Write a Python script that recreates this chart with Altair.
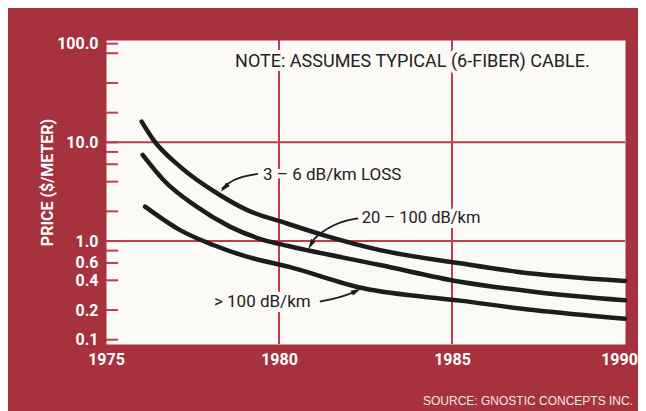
import altair as alt
import pandas as pd

# ---------------- data ----------------
SERIES = ["3 – 6 dB/km LOSS", "20 – 100 dB/km", "> 100 dB/km"]

years_low_loss = [1976.03, 1976.37, 1977.14, 1978.29, 1979.07, 1980.22, 1981.28, 1982.92, 1985.23, 1986.87, 1990.0]
price_low_loss = [16.2, 10.6, 5.68, 2.93, 2.07, 1.51, 1.15, 0.81, 0.595, 0.489, 0.394]

years_mid_loss = [1976.06, 1976.66, 1977.62, 1978.58, 1979.54, 1980.27, 1982.92, 1985.23, 1987.35, 1990.0]
price_mid_loss = [7.46, 4.16, 2.23, 1.40, 1.03, 0.891, 0.572, 0.387, 0.307, 0.251]

years_high_loss = [1976.13, 1977.14, 1978.10, 1979.07, 1980.27, 1982.44, 1985.23, 1987.35, 1990.0]
price_high_loss = [2.23, 1.29, 0.912, 0.695, 0.550, 0.332, 0.249, 0.200, 0.163]

x_tick_values = [1975, 1980, 1985, 1990]
y_label_values = [100, 10, 1, 0.6, 0.4, 0.2, 0.1]
y_minor_ticks = [100, 80, 40, 20, 10, 8, 6, 4, 2, 1, 0.8, 0.6, 0.4, 0.2, 0.1]
grid_prices = [10, 1]
grid_years = [1980, 1985]

# annotation labels (left edge, vertical middle)
label_texts = ["NOTE: ASSUMES TYPICAL (6-FIBER) CABLE.", "3 – 6 dB/km LOSS", "20 – 100 dB/km", "> 100 dB/km"]
label_years = [1978.73, 1979.54, 1982.39, 1978.12]
label_prices = [65.8, 4.68, 1.71, 0.243]
label_sizes = [18, 17, 16.5, 17]

# arrow shafts
arrow_ids = ["a1"] * 4 + ["a2"] * 5 + ["a3"] * 3
arrow_years = [1979.39, 1978.87, 1978.53, 1978.35,
               1982.29, 1981.96, 1981.57, 1981.18, 1980.99,
               1981.18, 1981.76, 1982.14]
arrow_prices = [4.79, 4.46, 3.88, 3.37,
                1.70, 1.635, 1.455, 1.199, 1.025,
                0.243, 0.268, 0.301]
# arrow heads (centre of the head)
head_years = [1978.42, 1980.92, 1982.24]
head_prices = [3.45, 0.918, 0.313]
head_angles = [225, 210, 63]

source_text = "SOURCE: GNOSTIC CONCEPTS INC."

# ---------------- tables ----------------
rows = []
for name, ys, ps in zip(SERIES, [years_low_loss, years_mid_loss, years_high_loss],
                        [price_low_loss, price_mid_loss, price_high_loss]):
    for i, (yv, pv) in enumerate(zip(ys, ps)):
        rows.append({"series": name, "year": yv, "price": pv, "i": i})
curves = pd.DataFrame(rows)

arrows = pd.DataFrame({"id": arrow_ids, "year": arrow_years, "price": arrow_prices,
                       "i": list(range(len(arrow_ids)))})
heads = pd.DataFrame({"year": head_years, "price": head_prices, "angle": head_angles})
labels = pd.DataFrame({"text": label_texts, "year": label_years, "price": label_prices,
                       "size": label_sizes})
hgrid = pd.DataFrame({"price": grid_prices})
vgrid = pd.DataFrame({"year": grid_years})
ticks = pd.DataFrame({"price": y_minor_ticks})
source = pd.DataFrame({"text": [source_text]})

# ---------------- styling ----------------
BG = "#a6323d"
GRID = "#c23b4b"
INK = "#1c1c1c"
PAPER = "#fbfaf6"
FONT = "Roboto, sans-serif"
W, H = 519, 304
ARROW = "M0,-1L0.5,1L-0.5,1Z"

x_scale = alt.Scale(domain=[1975, 1990], nice=False, zero=False)
y_scale = alt.Scale(type="log", domain=[0.0905, 109], nice=False)

x_axis = alt.Axis(values=x_tick_values, format="d", ticks=False, domain=False, grid=False,
                  labelFont=FONT, labelFontSize=16, labelFontWeight="bold", labelColor="white",
                  labelPadding=7, labelFlush=False, labelOverlap=False, title=None,
                  labelOffset={"condition": {"test": "datum.value == 1990", "value": -6}, "value": 0})
y_axis = alt.Axis(values=y_label_values, format=".1f", ticks=False, domain=False, grid=False,
                  labelFont=FONT, labelFontSize=16, labelFontWeight="bold", labelColor="white",
                  labelPadding=8, labelFlush=False, labelOverlap=False,
                  title="PRICE ($/METER)", titleFont=FONT, titleFontSize=16, titleFontWeight="bold",
                  titleColor="white", titleX=-59, titleY=142, titleAngle=270,
                  titleAlign="center", titleBaseline="middle")

X = alt.X("year:Q", scale=x_scale, axis=x_axis)
Y = alt.Y("price:Q", scale=y_scale, axis=y_axis)

hgrid_layer = alt.Chart(hgrid).mark_rule(color=GRID, strokeWidth=2).encode(y=Y)
vgrid_layer = alt.Chart(vgrid).mark_rule(color=GRID, strokeWidth=2).encode(x=X)
tick_layer = alt.Chart(ticks).mark_rule(color=GRID, strokeWidth=2).encode(
    y=Y, x=alt.value(0), x2=alt.value(12))

halo_layer = alt.Chart(labels).mark_text(
    align="left", baseline="middle", font=FONT,
    color=PAPER, stroke=PAPER, strokeWidth=8).encode(
    x=X, y=Y, text="text:N", size=alt.Size("size:Q", scale=None))

curve_layer = alt.Chart(curves).mark_line(
    color=INK, strokeWidth=4.5, strokeCap="round", interpolate="monotone").encode(
    x=X, y=Y, detail="series:N", order="i:Q")

shaft_layer = alt.Chart(arrows).mark_line(
    color=INK, strokeWidth=1.8, interpolate="basis").encode(
    x=X, y=Y, detail="id:N", order="i:Q")

head_layer = alt.Chart(heads).mark_point(
    shape=ARROW, filled=True, color=INK, size=110, opacity=1).encode(
    x=X, y=Y, angle=alt.Angle("angle:Q", scale=None))

text_layer = alt.Chart(labels).mark_text(
    align="left", baseline="middle", font=FONT, color="#222222").encode(
    x=X, y=Y, text="text:N", size=alt.Size("size:Q", scale=None))

source_layer = alt.Chart(source).mark_text(
    align="right", baseline="middle", font="Liberation Sans, Arial, sans-serif",
    fontSize=12, color="#f4e6e6").encode(
    x=alt.value(W + 8), y=alt.value(H + 57), text="text:N")

chart = alt.layer(
    hgrid_layer, vgrid_layer, tick_layer, halo_layer, curve_layer,
    shaft_layer, head_layer, text_layer, source_layer
).properties(
    width=W, height=H,
    background=BG,
    padding={"left": 98, "top": 32, "right": 13, "bottom": 67},
    autosize=alt.AutoSizeParams(type="none"),
).configure_view(fill=PAPER, stroke="transparent")

chart.save("out.html", embed_options={"renderer": "svg", "actions": False})
